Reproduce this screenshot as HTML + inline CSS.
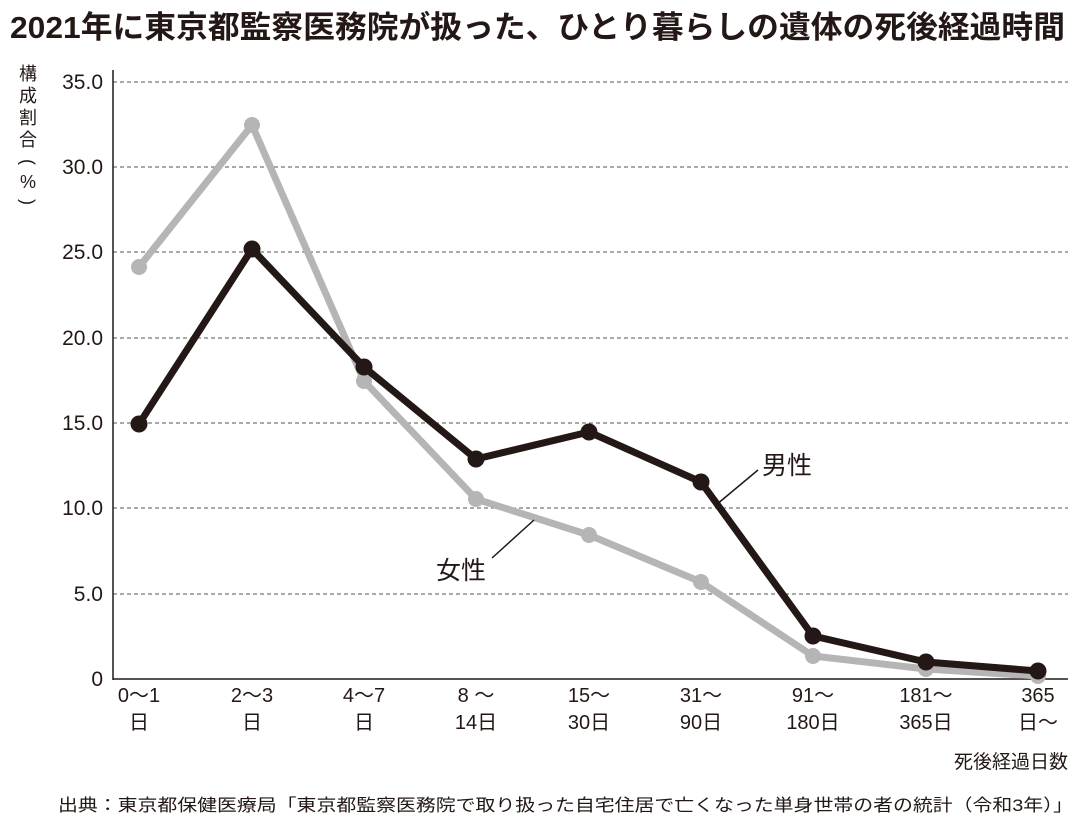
<!DOCTYPE html>
<html><head><meta charset="utf-8"><style>
body{margin:0;background:#fff;}
svg text{font-family:"Liberation Sans","Noto Sans CJK JP",sans-serif;fill:#231815;}
</style></head><body>
<svg width="1090" height="830" viewBox="0 0 1090 830" xmlns="http://www.w3.org/2000/svg">
<rect width="1090" height="830" fill="#fff"/>
<text x="10" y="38" font-size="31" font-weight="bold" textLength="1055" lengthAdjust="spacingAndGlyphs">2021年に東京都監察医務院が扱った、ひとり暮らしの遺体の死後経過時間</text>
<g font-size="18">
<text x="28" y="80" text-anchor="middle">構</text>
<text x="28" y="102" text-anchor="middle">成</text>
<text x="28" y="124" text-anchor="middle">割</text>
<text x="28" y="146" text-anchor="middle">合</text>
<text x="28" y="168" text-anchor="middle" transform="rotate(90 28 162)">(</text>
<text x="28" y="188" text-anchor="middle">%</text>
<text x="28" y="208" text-anchor="middle" transform="rotate(90 28 202)">)</text>
</g>
<g stroke="#555" stroke-width="1" stroke-dasharray="4,3">
<line x1="113" y1="82" x2="1068" y2="82"/>
<line x1="113" y1="167" x2="1068" y2="167"/>
<line x1="113" y1="252" x2="1068" y2="252"/>
<line x1="113" y1="338" x2="1068" y2="338"/>
<line x1="113" y1="423" x2="1068" y2="423"/>
<line x1="113" y1="508" x2="1068" y2="508"/>
<line x1="113" y1="594" x2="1068" y2="594"/>
</g>
<line x1="113" y1="70" x2="113" y2="680" stroke="#231815" stroke-width="1.5"/>
<line x1="113" y1="679" x2="1068" y2="679" stroke="#231815" stroke-width="1.5"/>
<g font-size="21" text-anchor="end">
<text x="103" y="89">35.0</text><text x="103" y="174">30.0</text><text x="103" y="259">25.0</text>
<text x="103" y="345">20.0</text><text x="103" y="430">15.0</text><text x="103" y="515">10.0</text>
<text x="103" y="601">5.0</text><text x="103" y="686">0</text>
</g>
<polyline fill="none" stroke="#b5b5b5" stroke-width="7" stroke-linejoin="round" points="139,267 252,125 364,381 476,499 589,535 701,582 813,656 926,669 1038,676"/>
<g fill="#b5b5b5">
<circle cx="139" cy="267" r="8"/><circle cx="252" cy="125" r="8"/><circle cx="364" cy="381" r="8"/><circle cx="476" cy="499" r="8"/><circle cx="589" cy="535" r="8"/><circle cx="701" cy="582" r="8"/><circle cx="813" cy="656" r="8"/><circle cx="926" cy="669" r="8"/><circle cx="1038" cy="676" r="8"/>
</g>
<polyline fill="none" stroke="#231815" stroke-width="7" stroke-linejoin="round" points="139,424 252,249 364,367 476,459 589,432 701,482 813,636 926,662 1038,671"/>
<g fill="#231815">
<circle cx="139" cy="424" r="8.5"/><circle cx="252" cy="249" r="8.5"/><circle cx="364" cy="367" r="8.5"/><circle cx="476" cy="459" r="8.5"/><circle cx="589" cy="432" r="8.5"/><circle cx="701" cy="482" r="8.5"/><circle cx="813" cy="636" r="8.5"/><circle cx="926" cy="662" r="8.5"/><circle cx="1038" cy="671" r="8.5"/>
</g>
<line x1="716" y1="505" x2="758" y2="470" stroke="#231815" stroke-width="1.5"/>
<text x="762" y="474" font-size="25">男性</text>
<line x1="492" y1="558" x2="534" y2="520" stroke="#231815" stroke-width="1.5"/>
<text x="436" y="579" font-size="25">女性</text>
<g font-size="20" text-anchor="middle">
<text x="139" y="702">0〜1</text><text x="139" y="729">日</text>
<text x="252" y="702">2〜3</text><text x="252" y="729">日</text>
<text x="364" y="702">4〜7</text><text x="364" y="729">日</text>
<text x="476" y="702">8 〜</text><text x="476" y="729">14日</text>
<text x="589" y="702">15〜</text><text x="589" y="729">30日</text>
<text x="701" y="702">31〜</text><text x="701" y="729">90日</text>
<text x="813" y="702">91〜</text><text x="813" y="729">180日</text>
<text x="926" y="702">181〜</text><text x="926" y="729">365日</text>
<text x="1038" y="702">365</text><text x="1038" y="729">日〜</text>
</g>
<text x="1068" y="768" font-size="19" text-anchor="end">死後経過日数</text>
<text x="58" y="811" font-size="17" textLength="1015" lengthAdjust="spacingAndGlyphs">出典：東京都保健医療局「東京都監察医務院で取り扱った自宅住居で亡くなった単身世帯の者の統計（令和3年）」</text>
</svg>
</body></html>
